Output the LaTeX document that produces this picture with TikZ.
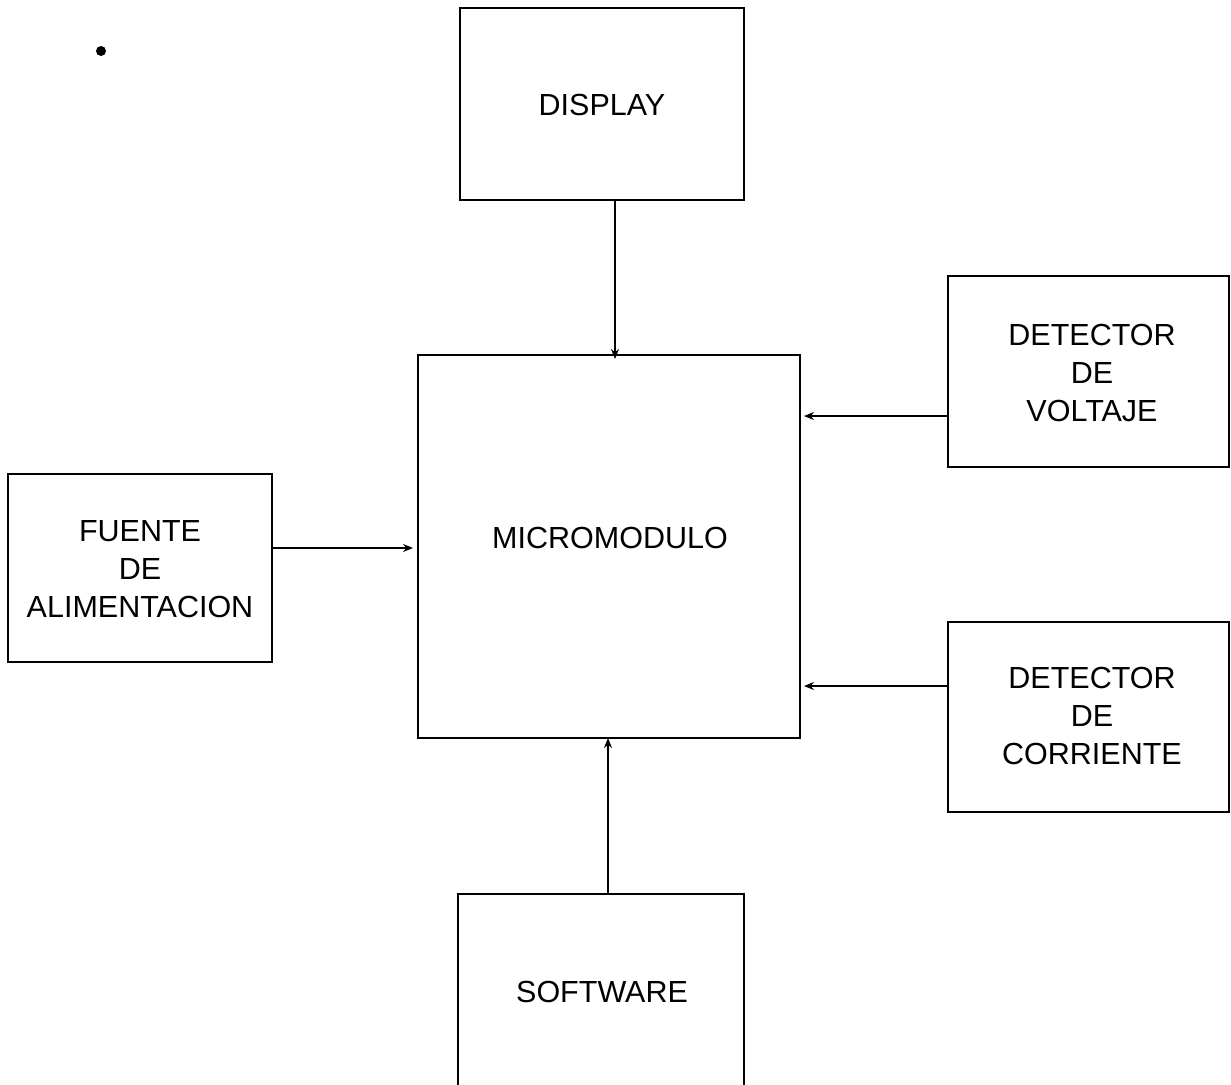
\documentclass[tikz,border=0pt]{standalone}
\usepackage{fontspec}
\setmainfont{Liberation Sans}
\usetikzlibrary{arrows.meta}
\begin{document}
\begin{tikzpicture}[x=1pt,y=-1pt,
  blk/.style={draw,line width=2pt},
  lbl/.style={align=center,font=\fontsize{30.5}{38}\selectfont,inner sep=0pt},
  conn/.style={line width=1.3pt,-{Stealth[length=10pt,width=8pt]}}]
\useasboundingbox[fill=white] (0,0) rectangle (1231,1084);
% boxes
\draw[blk] (460,8) rectangle (744,200);
\node[lbl] (display) at (602,105) {DISPLAY};
\coordinate (dispB) at (615,200);
\draw[blk] (418,355) rectangle (800,738);
\node[lbl] (micro) at (610,538) {MICROMODULO};
\coordinate (microT) at (615,355);
\coordinate (microB) at (608,738);
\coordinate (microL) at (418,548);
\coordinate (microRv) at (800,416);
\coordinate (microRc) at (800,686);
\draw[blk] (948,276) rectangle (1229,467);
\node[lbl] (volt) at (1092,373) {DETECTOR\\DE\\VOLTAJE};
\coordinate (voltL) at (948,416);
\draw[blk] (8,474) rectangle (272,662);
\node[lbl] (fuente) at (140,569) {FUENTE\\DE\\ALIMENTACION};
\coordinate (fuenteR) at (272,548);
\draw[blk] (948,622) rectangle (1229,812);
\node[lbl] (corr) at (1092,716) {DETECTOR\\DE\\CORRIENTE};
\coordinate (corrL) at (948,686);
\draw[blk] (458,1090) -- (458,894) -- (744,894) -- (744,1090);
\node[lbl] (soft) at (602,992) {SOFTWARE};
\coordinate (softT) at (608,894);
% connectors
\draw[conn] (dispB) -- ([yshift=-4]microT);
\draw[conn] (voltL) -- ([xshift=4]microRv);
\draw[conn] (fuenteR) -- ([xshift=-5]microL);
\draw[conn] (corrL) -- ([xshift=4]microRc);
\draw[conn] (softT) -- (microB);
% scan mark
\fill (101,51) circle (5);
\end{tikzpicture}
\end{document}
